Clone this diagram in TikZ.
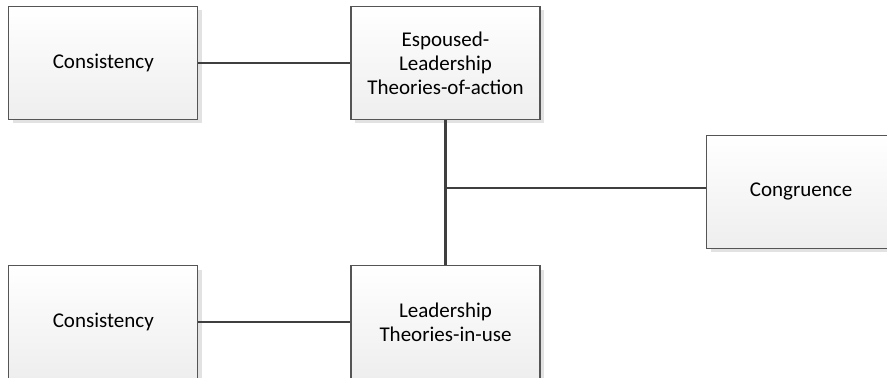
\documentclass[tikz,border=0pt]{standalone}
\usepackage{fontspec}
\setmainfont{Carlito}
\usepackage{tikz}
\usetikzlibrary{positioning,calc,shadows}
\definecolor{boxborder}{HTML}{555555}
\definecolor{boxbottom}{HTML}{EEEEEE}
\definecolor{linkgray}{HTML}{3F3F3F}
\definecolor{shadowgray}{HTML}{E2E2E2}
\tikzset{
  conceptbox/.style={draw=boxborder, line width=0.6pt, top color=white, bottom color=boxbottom,
    minimum width=94.5pt, minimum height=56.5pt, align=center, inner sep=2pt,
    font=\fontsize{10.5}{12}\selectfont,
    drop shadow={shadow xshift=2pt, shadow yshift=-2pt, fill=shadowgray, opacity=1}},
  link/.style={linkgray, line width=1.1pt}
}

\begin{document}
\begin{tikzpicture}
  \clip (-222.75pt,-157.5pt) rectangle (220.75pt,31.5pt);
  \node[conceptbox] (espoused) {Espoused-\\Leadership\\Theories-of-action};
  \node[conceptbox, left=76pt of espoused] (consistencyA) {Consistency};
  \node[conceptbox, below=72.5pt of espoused] (inuse) {Leadership\\Theories-in-use};
  \node[conceptbox, left=76pt of inuse] (consistencyB) {Consistency};
  \coordinate (junction) at ($(espoused.south)!0.47!(inuse.north)$);
  \node[conceptbox, right=130.25pt of junction, yshift=-1.75pt] (congruence) {Congruence};
  \draw[link] (consistencyA) -- (espoused);
  \draw[link] (consistencyB) -- (inuse);
  \draw[link] (espoused) -- (inuse);
  \draw[link] (junction) -- (junction -| congruence.west);
\end{tikzpicture}
\end{document}
